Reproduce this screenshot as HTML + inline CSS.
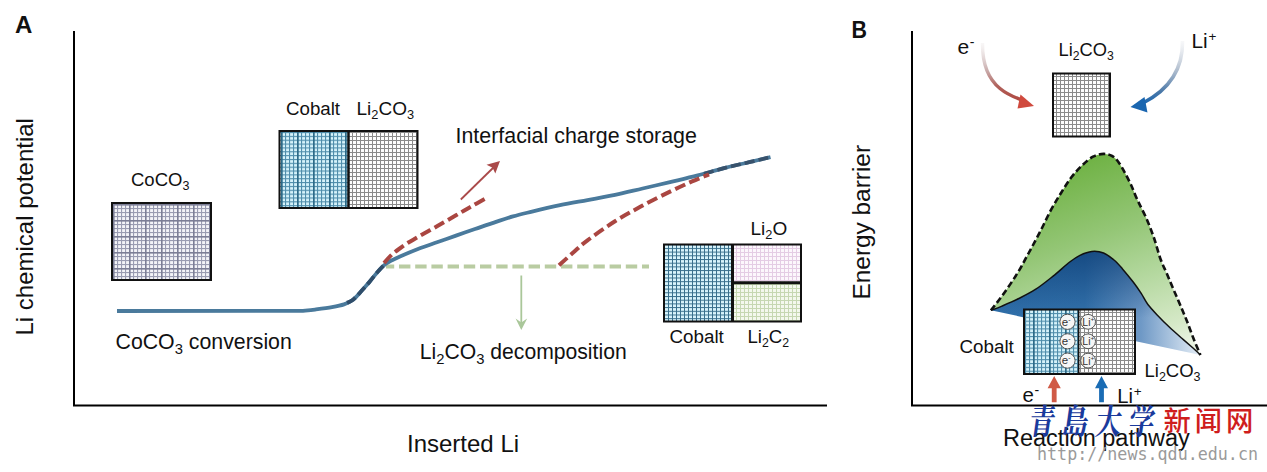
<!DOCTYPE html>
<html><head><meta charset="utf-8">
<style>
html,body{margin:0;padding:0;background:#fff;width:1267px;height:472px;overflow:hidden}
svg{display:block}
text{font-family:"Liberation Sans",Arial,sans-serif;fill:#111}
</style></head><body>
<svg width="1267" height="472" viewBox="0 0 1267 472">
<defs>
  <pattern id="pCoCO3" width="16" height="16" patternUnits="userSpaceOnUse" x="113" y="204">
    <rect width="16" height="16" fill="#f3f3f8"/>
    <g fill="#9a9cb2">
    <rect x="4" y="0" width="1.1" height="16"/><rect x="8" y="0" width="1.1" height="16"/><rect x="12" y="0" width="1.1" height="16"/>
    <rect x="0" y="4" width="16" height="1.1"/><rect x="0" y="8" width="16" height="1.1"/><rect x="0" y="12" width="16" height="1.1"/>
    </g>
    <g fill="#7c7e96">
    <rect x="0" y="0" width="1.6" height="16"/><rect x="0" y="0" width="16" height="1.6"/>
    </g>
  </pattern>
  <pattern id="pCoTop" width="16" height="3.85" patternUnits="userSpaceOnUse" x="281" y="132">
    <rect width="16" height="3.85" fill="#d6f3fb"/>
    <g fill="#4f8dab">
    <rect x="4" y="0" width="1.1" height="3.85"/><rect x="8" y="0" width="1.1" height="3.85"/><rect x="12" y="0" width="1.1" height="3.85"/>
    <rect x="0" y="0" width="16" height="1.1"/>
    </g>
    <rect x="0" y="0" width="1.7" height="3.85" fill="#2c6a88"/>
  </pattern>
  <pattern id="pCo" width="4" height="3.7" patternUnits="userSpaceOnUse">
    <rect width="4" height="3.7" fill="#d8f4fc"/>
    <rect x="0" y="0" width="1" height="3.7" fill="#386f8c"/>
    <rect x="0" y="0" width="4" height="1" fill="#386f8c"/>
  </pattern>
  <pattern id="pLi" width="4" height="4" patternUnits="userSpaceOnUse">
    <rect width="4" height="4" fill="#fdfdfd"/>
    <rect x="0" y="0" width="1" height="4" fill="#8a8a8a"/>
    <rect x="0" y="0" width="4" height="1" fill="#8a8a8a"/>
  </pattern>
  <pattern id="pPink" width="4" height="4" patternUnits="userSpaceOnUse">
    <rect width="4" height="4" fill="#fcf7fc"/>
    <rect x="0" y="0" width="1" height="4" fill="#e4cce4"/>
    <rect x="0" y="0" width="4" height="1" fill="#e4cce4"/>
  </pattern>
  <pattern id="pGreen" width="4" height="4" patternUnits="userSpaceOnUse">
    <rect width="4" height="4" fill="#f4f8ee"/>
    <rect x="0" y="0" width="1" height="4" fill="#c6d7b2"/>
    <rect x="0" y="0" width="4" height="1" fill="#c6d7b2"/>
  </pattern>
  <linearGradient id="gRed" gradientUnits="userSpaceOnUse" x1="0" y1="43" x2="0" y2="100">
    <stop offset="0" stop-color="#e0d8d8" stop-opacity="0.2"/>
    <stop offset="0.45" stop-color="#c0a0a0" stop-opacity="0.8"/>
    <stop offset="0.75" stop-color="#b0625c"/>
    <stop offset="1" stop-color="#b04a42"/>
  </linearGradient>
  <linearGradient id="gBlueArr" gradientUnits="userSpaceOnUse" x1="0" y1="41" x2="0" y2="104">
    <stop offset="0" stop-color="#d8dce4" stop-opacity="0.2"/>
    <stop offset="0.45" stop-color="#a0b0c4" stop-opacity="0.8"/>
    <stop offset="0.8" stop-color="#4a78a8"/>
    <stop offset="1" stop-color="#1a66b0"/>
  </linearGradient>
  <linearGradient id="gGreen" gradientUnits="userSpaceOnUse" x1="1095" y1="155" x2="1165" y2="350">
    <stop offset="0" stop-color="#6fb244"/>
    <stop offset="0.37" stop-color="#94c676"/>
    <stop offset="0.6" stop-color="#b0d69a"/>
    <stop offset="0.9" stop-color="#d6e9c8"/>
    <stop offset="1" stop-color="#e8f2e0"/>
  </linearGradient>
  <linearGradient id="gBlueBase" gradientUnits="userSpaceOnUse" x1="990" y1="0" x2="1200" y2="0">
    <stop offset="0" stop-color="#3070aa"/>
    <stop offset="0.45" stop-color="#3372ac"/>
    <stop offset="0.72" stop-color="#6f99c6"/>
    <stop offset="1" stop-color="#e4edf6"/>
  </linearGradient>
  <linearGradient id="gBlueTop" gradientUnits="userSpaceOnUse" x1="0" y1="250" x2="0" y2="318">
    <stop offset="0" stop-color="#0b3c74" stop-opacity="0.75"/>
    <stop offset="1" stop-color="#0b3c74" stop-opacity="0"/>
  </linearGradient>
</defs>
<rect width="1267" height="472" fill="#fff"/>

<!-- ============ PANEL A ============ -->
<text x="15" y="33" style="font-weight:bold;font-size:24px">A</text>
<path d="M74 31 V405.5 H827" fill="none" stroke="#000" stroke-width="2"/>
<text transform="translate(32.5 335.5) rotate(-90)" style="font-size:24px">Li chemical potential</text>
<text x="407" y="452" style="font-size:24px">Inserted Li</text>

<!-- CoCO3 -->
<text x="131" y="186" style="font-size:18.5px">CoCO<tspan dy="4" style="font-size:12.5px">3</tspan></text>
<rect x="112" y="203" width="99" height="77" fill="url(#pCoCO3)" stroke="#111" stroke-width="2"/>

<!-- Cobalt / Li2CO3 box -->
<text x="286" y="115" style="font-size:18.7px">Cobalt</text>
<text x="356.5" y="115" style="font-size:19px">Li<tspan dy="4" style="font-size:12.8px">2</tspan><tspan dy="-4">CO</tspan><tspan dy="4" style="font-size:12.8px">3</tspan></text>
<rect x="279.5" y="131" width="69" height="77" fill="url(#pCoTop)"/>
<rect x="348.5" y="131" width="69" height="77" fill="url(#pLi)"/>
<rect x="279.5" y="131" width="138" height="77" fill="none" stroke="#111" stroke-width="2"/>
<line x1="348.5" y1="131" x2="348.5" y2="208" stroke="#111" stroke-width="2.5"/>

<!-- Interfacial -->
<text x="455.5" y="143" style="font-size:21.4px">Interfacial charge storage</text>

<!-- green dashed -->
<line x1="386" y1="266.5" x2="649" y2="266.5" stroke="#b9cca2" stroke-width="3.8" stroke-dasharray="11.4 4.8" stroke-dashoffset="3.2"/>
<!-- green arrow -->
<line x1="521.3" y1="275.5" x2="521.3" y2="324" stroke="#aac79a" stroke-width="1.8"/>
<path d="M521.3 330 L515.6 318.6 L521.3 322.5 L527.2 318.6 Z" fill="#aac79a"/>

<!-- blue curve -->
<path d="M117 311 L303 310.8  C305.0 310.6 310.2 310.2 315.0 309.6 C319.8 309.0 327.2 308.1 332.0 307.2 C336.8 306.3 340.5 305.6 344.0 304.4 C347.5 303.2 350.2 301.9 353.0 299.8 C355.8 297.7 358.2 294.6 361.0 291.5 C363.8 288.4 367.2 284.7 370.0 281.3 C372.8 277.9 375.5 274.2 378.0 271.4 C380.5 268.6 382.7 266.2 385.0 264.4 C387.3 262.5 389.5 261.6 392.0 260.3 C394.5 259.0 395.7 258.4 400.0 256.5 C404.3 254.6 411.8 251.4 418.0 249.0 C424.2 246.6 430.7 244.5 437.0 242.3 C443.3 240.1 449.7 237.8 456.0 235.6 C462.3 233.4 468.7 231.2 475.0 229.0 C481.3 226.8 487.7 224.7 494.0 222.6 C500.3 220.5 506.7 218.2 513.0 216.4 C519.3 214.6 524.2 213.5 532.0 211.6 C539.8 209.7 550.8 207.1 560.0 205.2 C569.2 203.3 578.3 201.8 587.5 200.1 C596.7 198.4 605.8 196.7 615.0 194.8 C624.2 192.9 633.4 190.6 642.6 188.5 C651.8 186.4 660.8 184.3 670.0 182.1 C679.2 179.9 688.5 177.8 697.7 175.4 C706.9 173.0 715.8 170.2 725.0 167.9 C734.2 165.6 745.1 163.2 752.7 161.4 C760.3 159.6 767.5 157.8 770.5 157.1" fill="none" stroke="#4a7a9c" stroke-width="3.8"/>
<path d="M347.0 302.8 C348.0 302.3 350.7 301.7 353.0 299.8 C355.3 297.9 358.2 294.6 361.0 291.5 C363.8 288.4 367.2 284.7 370.0 281.3 C372.8 277.9 375.5 274.2 378.0 271.4 C380.5 268.5 383.8 265.4 385.0 264.2" fill="none" stroke="#2f4d6a" stroke-width="3.8" stroke-dasharray="10 4"/>
<path d="M704.0 173.8 C707.5 172.8 716.9 170.0 725.0 167.9 C733.1 165.8 745.1 163.2 752.7 161.4 C760.3 159.6 767.5 157.8 770.5 157.1" fill="none" stroke="#38526c" stroke-width="3.8" stroke-dasharray="10 4"/>

<!-- red dashed -->
<path d="M384.0 263.0 C385.3 261.6 389.5 256.8 392.0 254.5 C394.5 252.2 396.3 250.9 399.0 249.0 C401.7 247.1 404.8 244.8 408.0 242.8 C411.2 240.8 413.2 239.8 418.0 237.0 C422.8 234.2 430.7 229.9 437.0 226.3 C443.3 222.7 450.5 218.5 456.0 215.3 C461.5 212.1 464.9 210.1 470.0 207.2 C475.1 204.3 483.8 199.5 486.5 198.0" fill="none" stroke="#aa4641" stroke-width="4" stroke-dasharray="11 4.5"/>
<path d="M559.0 265.3 C561.5 263.1 569.0 256.2 573.8 252.0 C578.5 247.8 580.6 245.4 587.5 240.3 C594.4 235.2 605.8 227.1 615.0 221.3 C624.2 215.5 633.4 210.6 642.6 205.6 C651.8 200.6 661.8 195.6 670.0 191.6 C678.2 187.6 685.5 184.3 692.0 181.4 C698.5 178.5 706.2 175.6 709.0 174.4" fill="none" stroke="#aa4641" stroke-width="4" stroke-dasharray="11 4.5"/>
<!-- red thin arrow -->
<line x1="460.8" y1="199.5" x2="495" y2="166" stroke="#aa4a4a" stroke-width="1.8"/>
<path d="M500 161 L486.5 164.8 L492.6 167.8 L495.3 173.4 Z" fill="#aa4a4a"/>

<!-- Li2CO3 decomposition -->
<text x="419.8" y="359" style="font-size:21.15px">Li<tspan dy="4.5" style="font-size:14.8px">2</tspan><tspan dy="-4.5">CO</tspan><tspan dy="4.5" style="font-size:14.8px">3</tspan><tspan dy="-4.5"> decomposition</tspan></text>
<!-- CoCO3 conversion -->
<text x="115.5" y="349" style="font-size:21.3px">CoCO<tspan dy="4.5" style="font-size:14.8px">3</tspan><tspan dy="-4.5"> conversion</tspan></text>

<!-- right box -->
<text x="750.5" y="234.7" style="font-size:19px">Li<tspan dy="4" style="font-size:12.8px">2</tspan><tspan dy="-4">O</tspan></text>
<rect x="664" y="244.5" width="68" height="77" fill="url(#pCo)"/>
<rect x="732" y="244.5" width="69" height="38" fill="url(#pPink)"/>
<rect x="732" y="283" width="69" height="38.5" fill="url(#pGreen)"/>
<rect x="664" y="244.5" width="137" height="77" fill="none" stroke="#111" stroke-width="2"/>
<line x1="732.5" y1="244.5" x2="732.5" y2="321.5" stroke="#111" stroke-width="3"/>
<line x1="732.5" y1="282.8" x2="801" y2="282.8" stroke="#111" stroke-width="3"/>
<text x="669.5" y="342.6" style="font-size:18.8px">Cobalt</text>
<text x="747.5" y="342.6" style="font-size:18.6px">Li<tspan dy="4" style="font-size:12.3px">2</tspan><tspan dy="-4">C</tspan><tspan dy="4" style="font-size:12.3px">2</tspan></text>

<!-- ============ PANEL B ============ -->
<text transform="translate(851.5 37.6) scale(0.9 1)" style="font-weight:bold;font-size:23.8px">B</text>
<path d="M912 31 V405.5 H1267" fill="none" stroke="#000" stroke-width="2"/>
<text transform="translate(869.5 299.5) rotate(-90)" style="font-size:24.4px">Energy barrier</text>

<text x="957.5" y="54" style="font-size:21px">e<tspan dx="0.6" dy="-7.2" style="font-size:14px">-</tspan></text>
<text x="1191.5" y="47.6" style="font-size:20.8px">Li<tspan dx="0.8" dy="-7" style="font-size:13.5px">+</tspan></text>
<text x="1058.5" y="56" style="font-size:18.3px">Li<tspan dy="3.8" style="font-size:12.2px">2</tspan><tspan dy="-3.8">CO</tspan><tspan dy="3.8" style="font-size:12.2px">3</tspan></text>
<rect x="1053" y="73.5" width="57" height="63" fill="url(#pLi)" stroke="#111" stroke-width="2"/>

<!-- curved arrows -->
<path d="M982.5 43 C982.3 60 986 77 1000 88.5 C1006 93.5 1013 96.8 1021.5 99.8" fill="none" stroke="url(#gRed)" stroke-width="3.4"/>
<path d="M1020.5 94.5 L1034 106 L1017.5 108.5 Z" fill="#d04a3e"/>
<path d="M1182.5 41 C1183 66 1172 88 1143 103" fill="none" stroke="url(#gBlueArr)" stroke-width="3.6"/>
<path d="M1144.5 97 L1130.5 107 L1147.5 112.5 Z" fill="#1a66b0"/>

<!-- hills -->
<path d="M990.9 310.3 C992.8 309.6 997.3 308.1 1002.0 306.1 C1006.7 304.1 1013.3 301.3 1018.9 298.5 C1024.5 295.7 1030.1 292.9 1035.8 289.2 C1041.5 285.5 1047.1 280.9 1052.8 276.4 C1058.5 271.9 1065.2 265.5 1069.7 262.0 C1074.2 258.5 1076.2 257.1 1079.9 255.3 C1083.6 253.6 1087.8 251.9 1091.8 251.5 C1095.8 251.1 1099.9 251.6 1103.6 253.0 C1107.3 254.4 1110.8 257.4 1114.0 260.0 C1117.2 262.6 1119.3 265.2 1122.5 268.9 C1125.7 272.6 1130.3 278.2 1133.4 282.3 C1136.5 286.4 1138.8 289.7 1141.2 293.4 C1143.6 297.1 1145.1 300.8 1147.9 304.5 C1150.7 308.2 1154.4 312.0 1157.9 315.7 C1161.4 319.4 1165.1 323.1 1169.0 326.8 C1172.9 330.5 1177.5 334.5 1181.5 338.0 C1185.5 341.5 1189.8 345.2 1193.0 348.0 C1196.2 350.8 1199.2 353.8 1200.4 355.0 L990.9 310.3 Z" fill="url(#gBlueBase)"/>
<path d="M990.9 310.3 C992.8 309.6 997.3 308.1 1002.0 306.1 C1006.7 304.1 1013.3 301.3 1018.9 298.5 C1024.5 295.7 1030.1 292.9 1035.8 289.2 C1041.5 285.5 1047.1 280.9 1052.8 276.4 C1058.5 271.9 1065.2 265.5 1069.7 262.0 C1074.2 258.5 1076.2 257.1 1079.9 255.3 C1083.6 253.6 1087.8 251.9 1091.8 251.5 C1095.8 251.1 1099.9 251.6 1103.6 253.0 C1107.3 254.4 1110.8 257.4 1114.0 260.0 C1117.2 262.6 1119.3 265.2 1122.5 268.9 C1125.7 272.6 1130.3 278.2 1133.4 282.3 C1136.5 286.4 1138.8 289.7 1141.2 293.4 C1143.6 297.1 1145.1 300.8 1147.9 304.5 C1150.7 308.2 1154.4 312.0 1157.9 315.7 C1161.4 319.4 1165.1 323.1 1169.0 326.8 C1172.9 330.5 1177.5 334.5 1181.5 338.0 C1185.5 341.5 1189.8 345.2 1193.0 348.0 C1196.2 350.8 1199.2 353.8 1200.4 355.0 L990.9 310.3 Z" fill="url(#gBlueTop)"/>
<path d="M990.9 310.3 C992.8 307.9 997.6 302.1 1002.0 296.0 C1006.4 289.9 1012.8 280.7 1017.2 273.5 C1021.7 266.3 1024.9 259.9 1028.7 253.0 C1032.5 246.1 1036.3 239.0 1040.0 231.9 C1043.7 224.8 1047.1 217.2 1050.6 210.7 C1054.1 204.2 1057.7 198.3 1061.2 192.7 C1064.7 187.0 1068.3 181.4 1071.8 176.8 C1075.3 172.2 1078.9 168.4 1082.4 165.1 C1085.9 161.8 1089.5 158.6 1093.0 156.7 C1096.5 154.8 1100.4 154.0 1103.6 153.9 C1106.8 153.8 1109.6 154.7 1112.1 156.0 C1114.6 157.3 1116.3 159.2 1118.4 162.0 C1120.5 164.8 1122.7 168.7 1124.8 172.6 C1126.9 176.5 1129.1 180.7 1131.2 185.3 C1133.3 189.9 1135.0 194.7 1137.5 200.1 C1140.0 205.5 1143.2 211.2 1146.0 217.5 C1148.8 223.8 1151.6 231.1 1154.0 238.0 C1156.4 244.9 1158.3 253.0 1160.5 259.0 C1162.7 265.0 1164.9 269.0 1167.0 274.0 C1169.1 279.0 1171.1 283.9 1173.3 289.0 C1175.5 294.1 1177.8 299.2 1180.0 304.5 C1182.2 309.8 1184.5 314.9 1186.7 320.5 C1188.9 326.1 1191.0 332.2 1193.3 338.0 C1195.6 343.8 1199.2 352.2 1200.4 355.0 L1200.4 355.0 C1199.2 353.8 1196.2 350.8 1193.0 348.0 C1189.8 345.2 1185.5 341.5 1181.5 338.0 C1177.5 334.5 1172.9 330.5 1169.0 326.8 C1165.1 323.1 1161.4 319.4 1157.9 315.7 C1154.4 312.0 1150.7 308.2 1147.9 304.5 C1145.1 300.8 1143.6 297.1 1141.2 293.4 C1138.8 289.7 1136.5 286.4 1133.4 282.3 C1130.3 278.2 1125.7 272.6 1122.5 268.9 C1119.3 265.2 1117.2 262.6 1114.0 260.0 C1110.8 257.4 1107.3 254.4 1103.6 253.0 C1099.9 251.6 1095.8 251.1 1091.8 251.5 C1087.8 251.9 1083.6 253.6 1079.9 255.3 C1076.2 257.1 1074.2 258.5 1069.7 262.0 C1065.2 265.5 1058.5 271.9 1052.8 276.4 C1047.1 280.9 1041.5 285.5 1035.8 289.2 C1030.1 292.9 1024.5 295.7 1018.9 298.5 C1013.3 301.3 1006.7 304.1 1002.0 306.1 C997.3 308.1 992.8 309.6 990.9 310.3 Z" fill="url(#gGreen)"/>
<path d="M990.9 310.3 C992.8 309.6 997.3 308.1 1002.0 306.1 C1006.7 304.1 1013.3 301.3 1018.9 298.5 C1024.5 295.7 1030.1 292.9 1035.8 289.2 C1041.5 285.5 1047.1 280.9 1052.8 276.4 C1058.5 271.9 1065.2 265.5 1069.7 262.0 C1074.2 258.5 1076.2 257.1 1079.9 255.3 C1083.6 253.6 1087.8 251.9 1091.8 251.5 C1095.8 251.1 1099.9 251.6 1103.6 253.0 C1107.3 254.4 1110.8 257.4 1114.0 260.0 C1117.2 262.6 1119.3 265.2 1122.5 268.9 C1125.7 272.6 1130.3 278.2 1133.4 282.3 C1136.5 286.4 1138.8 289.7 1141.2 293.4 C1143.6 297.1 1145.1 300.8 1147.9 304.5 C1150.7 308.2 1154.4 312.0 1157.9 315.7 C1161.4 319.4 1165.1 323.1 1169.0 326.8 C1172.9 330.5 1177.5 334.5 1181.5 338.0 C1185.5 341.5 1189.8 345.2 1193.0 348.0 C1196.2 350.8 1199.2 353.8 1200.4 355.0" fill="none" stroke="#111" stroke-width="1.5"/>
<path d="M990.9 310.3 C992.8 307.9 997.6 302.1 1002.0 296.0 C1006.4 289.9 1012.8 280.7 1017.2 273.5 C1021.7 266.3 1024.9 259.9 1028.7 253.0 C1032.5 246.1 1036.3 239.0 1040.0 231.9 C1043.7 224.8 1047.1 217.2 1050.6 210.7 C1054.1 204.2 1057.7 198.3 1061.2 192.7 C1064.7 187.0 1068.3 181.4 1071.8 176.8 C1075.3 172.2 1078.9 168.4 1082.4 165.1 C1085.9 161.8 1089.5 158.6 1093.0 156.7 C1096.5 154.8 1100.4 154.0 1103.6 153.9 C1106.8 153.8 1109.6 154.7 1112.1 156.0 C1114.6 157.3 1116.3 159.2 1118.4 162.0 C1120.5 164.8 1122.7 168.7 1124.8 172.6 C1126.9 176.5 1129.1 180.7 1131.2 185.3 C1133.3 189.9 1135.0 194.7 1137.5 200.1 C1140.0 205.5 1143.2 211.2 1146.0 217.5 C1148.8 223.8 1151.6 231.1 1154.0 238.0 C1156.4 244.9 1158.3 253.0 1160.5 259.0 C1162.7 265.0 1164.9 269.0 1167.0 274.0 C1169.1 279.0 1171.1 283.9 1173.3 289.0 C1175.5 294.1 1177.8 299.2 1180.0 304.5 C1182.2 309.8 1184.5 314.9 1186.7 320.5 C1188.9 326.1 1191.0 332.2 1193.3 338.0 C1195.6 343.8 1199.2 352.2 1200.4 355.0" fill="none" stroke="#111" stroke-width="2.6" stroke-dasharray="6.4 3.2"/>

<!-- box in B -->
<rect x="1024" y="309.5" width="54.5" height="64.5" fill="url(#pCoTop)"/>
<rect x="1078.5" y="309.5" width="56.5" height="64.5" fill="url(#pLi)"/>
<rect x="1024" y="309.5" width="111" height="64.5" fill="none" stroke="#111" stroke-width="2"/>
<line x1="1078.6" y1="309.5" x2="1078.6" y2="374" stroke="#111" stroke-width="1.6"/>
<g stroke="#444" stroke-width="0.9" fill="#f6f6f6">
  <circle cx="1067.5" cy="321.8" r="7.6"/><circle cx="1067.5" cy="341.3" r="7.6"/><circle cx="1067.5" cy="360.6" r="7.6"/>
  <circle cx="1088.1" cy="321.8" r="7.4"/><circle cx="1088.1" cy="341.3" r="7.4"/><circle cx="1088.1" cy="360.6" r="7.4"/>
</g>
<g style="font-size:11.5px;fill:#333">
  <text x="1061.8" y="325.5" style="fill:#333">e<tspan dy="-4" style="font-size:7px;fill:#333">-</tspan></text>
  <text x="1061.8" y="345" style="fill:#333">e<tspan dy="-4" style="font-size:7px;fill:#333">-</tspan></text>
  <text x="1061.8" y="364.3" style="fill:#333">e<tspan dy="-4" style="font-size:7px;fill:#333">-</tspan></text>
  <text x="1082.3" y="325.8" style="font-size:10.5px;fill:#333">Li<tspan dy="-4" style="font-size:6.5px;fill:#333">+</tspan></text>
  <text x="1082.3" y="345.3" style="font-size:10.5px;fill:#333">Li<tspan dy="-4" style="font-size:6.5px;fill:#333">+</tspan></text>
  <text x="1082.3" y="364.6" style="font-size:10.5px;fill:#333">Li<tspan dy="-4" style="font-size:6.5px;fill:#333">+</tspan></text>
</g>
<text x="959.5" y="352.7" style="font-size:18.8px">Cobalt</text>
<text x="1144.5" y="376.8" style="font-size:18.5px">Li<tspan dy="4" style="font-size:12.5px">2</tspan><tspan dy="-4">CO</tspan><tspan dy="4" style="font-size:12.5px">3</tspan></text>

<!-- up arrows -->
<path d="M1054.2 376 L1060.8 388.2 L1056.6 388.2 L1056.6 402.3 L1051.8 402.3 L1051.8 388.2 L1047.6 388.2 Z" fill="#d05a46"/>
<path d="M1101.5 376 L1108 388.2 L1103.9 388.2 L1103.9 402.3 L1099.1 402.3 L1099.1 388.2 L1095 388.2 Z" fill="#1a6cb4"/>
<text x="1022.5" y="402.3" style="font-size:20.5px">e<tspan dx="0.6" dy="-7" style="font-size:14px">-</tspan></text>
<text x="1117.3" y="402.6" style="font-size:20.2px">Li<tspan dx="0.8" dy="-6.5" style="font-size:13.5px">+</tspan></text>

<text x="1003" y="446" style="font-size:23.5px">Reaction pathway</text>

<!-- watermark -->
<text transform="translate(1028 433.5) skewX(-8) scale(0.8 1.08)" style="font-family:'Liberation Serif','Noto Serif CJK SC','Noto Sans CJK SC',serif;font-size:32px;font-weight:700;fill:#1a3a9c;letter-spacing:9.5px">青島大学</text>
<text x="1163.5" y="431" style="font-family:'Liberation Sans','Noto Sans CJK SC',sans-serif;font-size:27.3px;font-weight:500;fill:#cf1d1d;letter-spacing:4px">新闻网</text>
<text x="1037" y="459.5" textLength="221" lengthAdjust="spacingAndGlyphs" style="font-family:'DejaVu Sans Mono',monospace;font-size:18px;fill:#9a9a9a">http://news.qdu.edu.cn</text>
</svg>
</body></html>
